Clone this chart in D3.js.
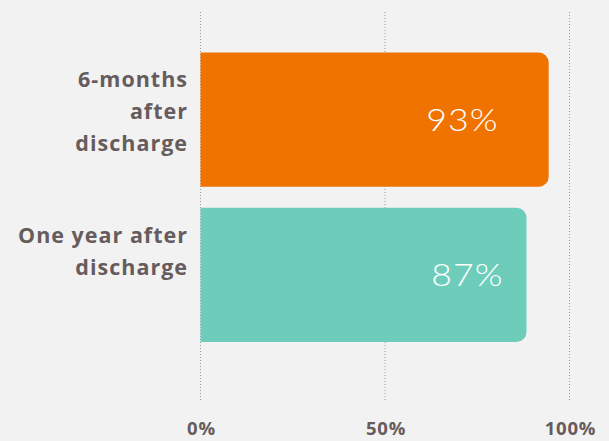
<!DOCTYPE html>
<html>
<head>
<meta charset="utf-8">
<script src="https://cdn.jsdelivr.net/npm/d3@7"></script>
<style>
body { margin: 0; background: #f2f2f2; }
svg { display: block; }
</style>
</head>
<body>
<svg id="chart"></svg>
<script>
var categories = [["6-months", "after", "discharge"], ["One year after", "discharge"]];
var values = [93, 87];
var colors = ["#f07300", "#6dcdba"];
var ticks = [0, 50, 100];

var W = 609, H = 441;
var svg = d3.select("#chart").attr("width", W).attr("height", H);
svg.append("rect").attr("width", W).attr("height", H).attr("fill", "#f2f2f2");

var x = d3.scaleLinear().domain([0, 100]).range([200.5, 569.5]);
var y = d3.scaleBand().domain(d3.range(values.length)).range([31.5, 363]).paddingInner(0.135).paddingOuter(0.135);

// gridlines
svg.selectAll(".grid").data(ticks).enter()
	.append("line")
		.attr("x1", function(d){ return x(d); })
		.attr("x2", function(d){ return x(d); })
		.attr("y1", 12).attr("y2", 400)
		.attr("stroke", "#9a9a9a").attr("stroke-width", 1)
		.attr("stroke-dasharray", "1,2");

// bars: square left, rounded right
function barPath(d, i)
{
	var x0 = x(0), x1 = x(d) + 5, y0 = y(i), h = y.bandwidth(), r = 10;
	return "M" + x0 + "," + y0 +
		"H" + (x1 - r) +
		"A" + r + "," + r + " 0 0 1 " + x1 + "," + (y0 + r) +
		"V" + (y0 + h - r) +
		"A" + r + "," + r + " 0 0 1 " + (x1 - r) + "," + (y0 + h) +
		"H" + x0 + "Z";
}
svg.selectAll(".bar").data(values).enter()
	.append("path")
		.attr("d", barPath)
		.attr("fill", function(d, i){ return colors[i]; });

// value labels, stretched a bit to mimic the wide geometric face
svg.selectAll(".val").data(values).enter()
	.append("text")
		.attr("transform", function(d, i){
			return "translate(" + (x(71) + i * 5) + "," + (y(i) + y.bandwidth()/2 + 11) + ") scale(1.15,1)";
		})
		.attr("text-anchor", "middle")
		.attr("fill", "#fff")
		.style("font-family", "Lato, sans-serif")
		.style("font-weight", 300)
		.style("font-size", "31px")
		.style("letter-spacing", "1px")
		.text(function(d){ return d + "%"; });

// category labels
var lab = svg.selectAll(".cat").data(categories).enter()
	.append("text")
		.attr("text-anchor", "end")
		.attr("fill", "#675c5d")
		.style("font-family", "'Open Sans', sans-serif")
		.style("font-weight", 700)
		.style("font-size", "21.5px")
		.style("letter-spacing", "1px")
		.attr("transform", function(d, i){ return "translate(188," + (y(i) + 35) + ")"; });
lab.selectAll("tspan").data(function(d){ return d; }).enter()
	.append("tspan")
		.attr("x", 0)
		.attr("y", function(d, j){ return j * 32; })
		.text(function(d){ return d; });

// axis labels
svg.selectAll(".tick").data(ticks).enter()
	.append("text")
		.attr("x", function(d){ return x(d) + 1; })
		.attr("y", 435)
		.attr("text-anchor", "middle")
		.attr("fill", "#675c5d")
		.style("font-family", "'Open Sans', sans-serif")
		.style("font-weight", 700)
		.style("font-size", "18.5px")
		.style("letter-spacing", "0.8px")
		.text(function(d){ return d + "%"; });
</script>
</body>
</html>
